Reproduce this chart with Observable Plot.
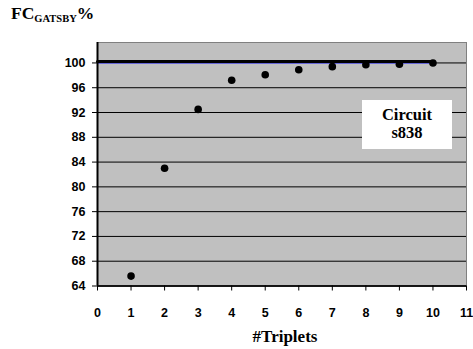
<!DOCTYPE html>
<html>
<head>
<meta charset="utf-8">
<script src="https://cdn.jsdelivr.net/npm/d3@7"></script>
<script src="https://cdn.jsdelivr.net/npm/@observablehq/plot@0.6"></script>
<style>
  html, body { margin: 0; padding: 0; background: #fff; }
  #wrap { position: relative; width: 473px; height: 349px; }
  .serif { font-family: 'Liberation Serif', 'Times New Roman', Times, serif; font-weight: bold; color: #000; }
  #title { position: absolute; left: 11px; top: 1px; font-size: 17.5px; line-height: 24px; }
  #title sub { font-size: 10.5px; vertical-align: -3px; }
  #xlabel { position: absolute; left: 0; width: 100%; padding-left: 97px; box-sizing: border-box; text-align: center; top: 327px; font-size: 17px; line-height: 20px; }
  #legend { position: absolute; left: 362px; top: 100px; width: 90px; height: 49px; background: #fff; font-size: 16.5px; text-align: center; line-height: 18px; padding-top: 6px; box-sizing: border-box; }
</style>
</head>
<body>
<div id="wrap">
  <div id="chart"></div>
  <div id="title" class="serif">FC<sub>GATSBY</sub>%</div>
  <div id="legend" class="serif">Circuit<br>s838</div>
  <div id="xlabel" class="serif">#Triplets</div>
</div>
<script>
const triplets = [1, 2, 3, 4, 5, 6, 7, 8, 9, 10];
const coverage = [65.6, 83.0, 92.5, 97.2, 98.1, 98.9, 99.4, 99.7, 99.8, 100.0];
const refX = [0, 10];
const refY = [100, 100];
const xTicks = [0, 1, 2, 3, 4, 5, 6, 7, 8, 9, 10, 11];
const yTicks = [64, 68, 72, 76, 80, 84, 88, 92, 96, 100];

const points = triplets.map((t, i) => ({x: t, y: coverage[i]}));
const ref = refX.map((x, i) => ({x, y: refY[i]}));

const tickFont = "'Liberation Sans', Arial, sans-serif";

const chart = Plot.plot({
  width: 473,
  height: 349,
  marginLeft: 97,
  marginRight: 7,
  marginTop: 42,
  marginBottom: 63.5,
  style: {fontFamily: tickFont, fontSize: "12.5px", fontWeight: "bold", color: "#000", background: "#fff"},
  x: {domain: [0, 11], ticks: xTicks, label: null},
  y: {domain: [64, 103.3], ticks: yTicks, label: null},
  marks: [
    Plot.frame({fill: "#c0c0c0", stroke: "#808080"}),
    Plot.ruleY(yTicks, {stroke: "#000", strokeWidth: 1}),
    Plot.line(ref, {x: "x", y: "y", stroke: "#6666dd", strokeWidth: 1, dy: 0.5}),
    Plot.line(ref, {x: "x", y: "y", stroke: "#000", strokeWidth: 3, dy: -1.5}),
    Plot.ruleX([0], {stroke: "#000", strokeWidth: 2}),
    Plot.ruleY([64], {stroke: "#000", strokeWidth: 1.5}),
    Plot.axisX({ticks: xTicks, tickSize: 5, tickPadding: 17.5, fontSize: 12.5, fontWeight: "bold", fontFamily: tickFont, stroke: "#000"}),
    Plot.axisY({ticks: yTicks, tickSize: 5, tickPadding: 7, fontSize: 12.5, fontWeight: "bold", fontFamily: tickFont, stroke: "#000"}),
    Plot.dot(points, {x: "x", y: "y", r: 3.8, fill: "#000", stroke: "none"})
  ]
});
document.getElementById("chart").appendChild(chart);
</script>
</body>
</html>
